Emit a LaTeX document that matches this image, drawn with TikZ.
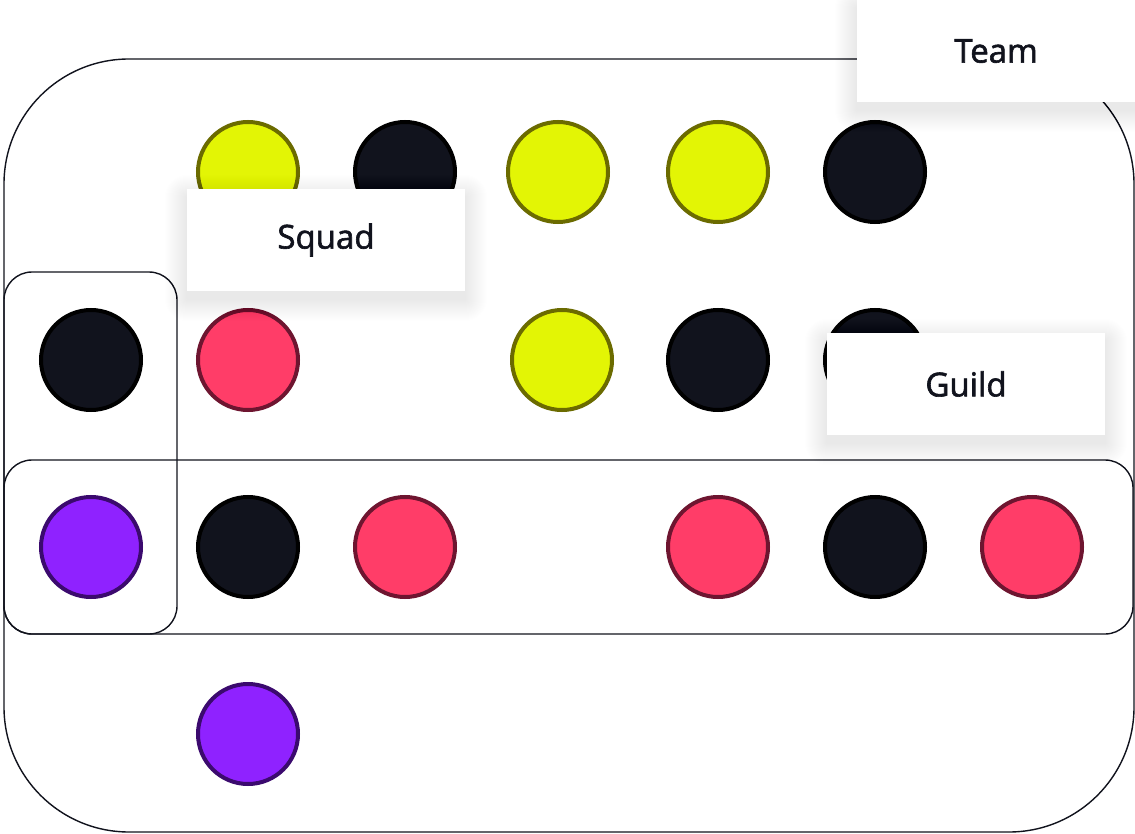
\documentclass[tikz,border=0pt]{standalone}
\usepackage{fontspec}
\setmainfont{Open Sans}
\newfontfamily\tagfont{Open Sans}[RawFeature={embolden=1.8}]
\definecolor{ink}{HTML}{11131D}
\definecolor{yfill}{HTML}{E3F505}
\definecolor{ystroke}{HTML}{6B6B00}
\definecolor{rfill}{HTML}{FF3D68}
\definecolor{rstroke}{HTML}{6E1530}
\definecolor{pfill}{HTML}{8F22FF}
\definecolor{pstroke}{HTML}{3B0A6E}
\tikzset{
  frame/.style={draw=ink, line width=1.4pt},
  dot/.style={circle, minimum size=100pt, inner sep=0pt, line width=4pt},
  ydot/.style={dot, fill=yfill, draw=ystroke},
  kdot/.style={dot, fill=ink, draw=black},
  rdot/.style={dot, fill=rfill, draw=rstroke},
  pdot/.style={dot, fill=pfill, draw=pstroke},
  tag/.style={fill=white, minimum width=278pt, minimum height=102pt, inner sep=0pt,
    text=ink, font=\tagfont\fontsize{33}{36}\selectfont}
}
\newcommand\softshade[2]{%
  \foreach \r in {1,2,...,22}{%
    \fill[black, fill opacity=0.0055, rounded corners=\r pt]
      (#1-139-\r, #2-51-\r+8) rectangle (#1+139+\r, #2+51+\r+8);
  }%
}
\begin{document}
\begin{tikzpicture}[x=1pt,y=-1pt]
\useasboundingbox (0,0) rectangle (1135,834);
\fill[white] (0,0) rectangle (1135,834);
% frames
\draw[frame, rounded corners=125pt] (4,59) rectangle (1134,832);
\draw[frame, rounded corners=28pt] (4,272) rectangle (177,634);
\draw[frame, rounded corners=28pt] (4,460) rectangle (1133,634);
% row 1
\node[ydot] (a1) at (248,172) {};
\node[kdot] (a2) at (405,172) {};
\node[ydot] (a3) at (558,172) {};
\node[ydot] (a4) at (718,172) {};
\node[kdot] (a5) at (875,172) {};
% row 2
\node[kdot] (b1) at (91,360) {};
\node[rdot] (b2) at (248,360) {};
\node[ydot] (b3) at (562,360) {};
\node[kdot] (b4) at (718,360) {};
\node[kdot] (b5) at (875,360) {};
% row 3
\node[pdot] (c1) at (91,547) {};
\node[kdot] (c2) at (248,547) {};
\node[rdot] (c3) at (405,547) {};
\node[rdot] (c4) at (718,547) {};
\node[kdot] (c5) at (875,547) {};
\node[rdot] (c6) at (1032,547) {};
% row 4
\node[pdot] (d1) at (248,734) {};
% labels
\softshade{996}{51}
\node[tag] (team) at (996,51) {Team};
\softshade{326}{240}
\node[tag] (squad) at (326,240) {Squad};
\softshade{966}{384}
\node[tag] (guild) at (966,384) {Guild};
\end{tikzpicture}
\end{document}
